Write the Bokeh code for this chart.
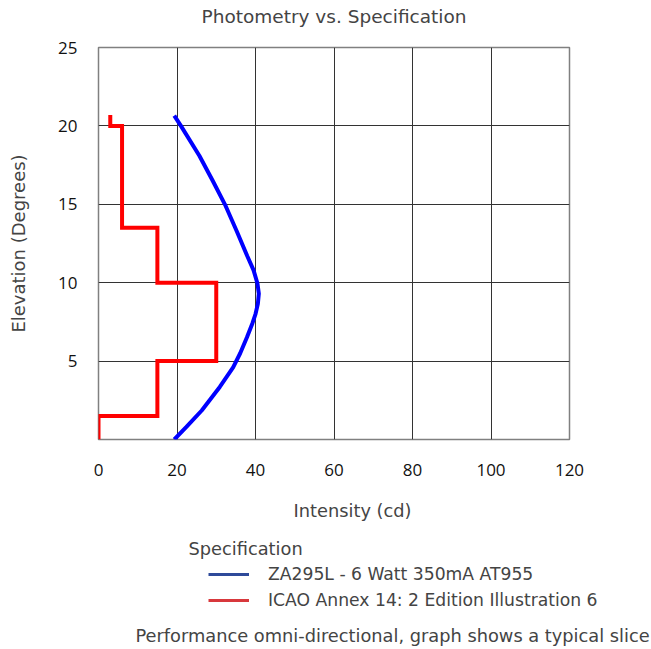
from bokeh.plotting import figure
from bokeh.layouts import column
from bokeh.models import Range1d, FixedTicker, Label, Legend, LegendItem
from bokeh.embed import file_html
from bokeh.resources import INLINE

# ---- data ----
blue_y = [0, 0.8, 1.85, 3.35, 4.6, 5.5, 6.5, 7.4, 8.0, 8.65, 9.3, 9.95, 10.8, 11.7, 13.3, 15, 16.5, 18.1, 20, 20.66]
blue_x = [19.3, 22.4, 26.3, 30.9, 34.3, 36.1, 37.8, 39.2, 40.0, 40.6, 40.85, 40.5, 39.5, 37.9, 35.2, 32.2, 29.1, 25.7, 21.0, 19.3]

red_x = [3, 3, 6, 6, 15, 15, 30, 30, 15, 15, 0, 0]
red_y = [20.7, 20, 20, 13.5, 13.5, 10, 10, 5, 5, 1.5, 1.5, 0]

x_ticks = [0, 20, 40, 60, 80, 100, 120]
y_ticks = [5, 10, 15, 20, 25]

series_names = ["ZA295L - 6 Watt 350mA AT955", "ICAO Annex 14: 2 Edition Illustration 6"]

TXT = "#444444"
FONT = "DejaVu Sans"
TICK_FONT = "Open Sans"
W = 651


def bare(height):
    f = figure(width=W, height=height, output_backend="svg", toolbar_location=None,
               x_range=Range1d(0, 1), y_range=Range1d(0, 1),
               min_border_left=0, min_border_right=0, min_border_top=0, min_border_bottom=0)
    f.axis.visible = False
    f.grid.visible = False
    f.outline_line_color = None
    return f


# ---- title strip ----
t = bare(35)
t.add_layout(Label(x=333.5, y=19, x_units="screen", y_units="screen",
                   text="Photometry vs. Specification", text_align="center",
                   text_baseline="middle", text_font=FONT, text_font_size="18.5px",
                   text_color=TXT))

# ---- main chart ----
p = figure(width=W, height=449, output_backend="svg", toolbar_location=None,
           x_range=Range1d(0, 120), y_range=Range1d(0, 25),
           min_border_left=98, min_border_right=82, min_border_top=12, min_border_bottom=45)

p.outline_line_color = "#808080"
p.outline_line_width = 1.5

for ax in (p.xaxis[0], p.yaxis[0]):
    ax.axis_line_color = None
    ax.major_tick_line_color = None
    ax.minor_tick_line_color = None
    ax.major_label_text_font = TICK_FONT
    ax.major_label_text_font_size = "17px"
    ax.major_label_text_color = "#111111"

p.xaxis.major_label_standoff = 18
p.yaxis.major_label_standoff = 15

p.xaxis.ticker = FixedTicker(ticks=x_ticks)
p.yaxis.ticker = FixedTicker(ticks=y_ticks)

p.yaxis.axis_label = "Elevation (Degrees)"
p.yaxis.axis_label_text_font = FONT
p.yaxis.axis_label_text_font_size = "18px"
p.yaxis.axis_label_text_font_style = "normal"
p.yaxis.axis_label_text_color = TXT
p.yaxis.axis_label_standoff = 26

p.xgrid.ticker = FixedTicker(ticks=x_ticks[1:-1])
p.ygrid.ticker = FixedTicker(ticks=y_ticks[:-1])
p.grid.grid_line_color = "#333333"
p.grid.grid_line_width = 1
p.grid.grid_line_alpha = 1

p.line(red_x, red_y, line_color="#ff0000", line_width=4, line_join="miter")
p.line(blue_x, blue_y, line_color="#0000ff", line_width=4)

# ---- lower panel: axis title, legend, note ----
q = bare(165)
nan = float("nan")
leg_blue = q.line(x=[nan], y=[nan], line_color="#2e4a9a", line_width=3)
leg_red = q.line(x=[nan], y=[nan], line_color="#d8383c", line_width=3)

legend = Legend(items=[LegendItem(label=series_names[0], renderers=[leg_blue]),
                       LegendItem(label=series_names[1], renderers=[leg_red])],
                location=(208, 36), orientation="vertical",
                padding=0, margin=0, spacing=0,
                glyph_width=41, glyph_height=26, label_height=26, label_standoff=19,
                label_text_font=FONT, label_text_font_size="17.2px", label_text_color=TXT,
                border_line_color=None, background_fill_alpha=0)
q.add_layout(legend, "center")

q.add_layout(Label(x=352, y=139, x_units="screen", y_units="screen", text="Intensity (cd)",
                   text_align="center", text_baseline="middle", text_font=FONT,
                   text_font_size="17.8px", text_color=TXT))
q.add_layout(Label(x=188, y=101, x_units="screen", y_units="screen", text="Specification",
                   text_align="left", text_baseline="middle", text_font=FONT,
                   text_font_size="17.8px", text_color=TXT))
q.add_layout(Label(x=135, y=14, x_units="screen", y_units="screen",
                   text="Performance omni-directional, graph shows a typical slice",
                   text_align="left", text_baseline="middle", text_font=FONT,
                   text_font_size="17.8px", text_color=TXT))

for f in (t, p, q):
    f.frame_align = False

layout = column(t, p, q, spacing=0)
open("out.html", "w").write(file_html(layout, INLINE))
